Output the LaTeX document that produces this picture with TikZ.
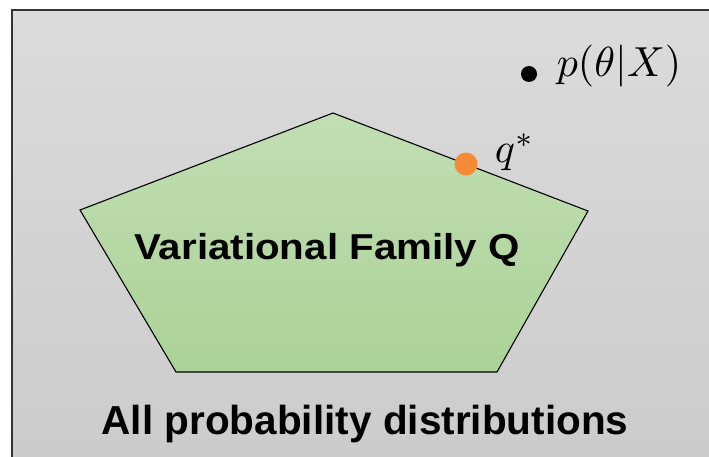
\documentclass[tikz,border=0pt]{standalone}
\usepackage{amsmath}
\usepackage{fontspec}
\setsansfont{Liberation Sans}
\usepackage{tikz}
\usetikzlibrary{positioning}

\definecolor{fonsclar}{RGB}{219,219,219}
\definecolor{fonsfosc}{RGB}{203,203,203}
\definecolor{verdclar}{RGB}{194,222,180}
\definecolor{verdfosc}{RGB}{170,210,150}
\definecolor{taronja}{RGB}{244,140,54}

\begin{document}
\begin{tikzpicture}[x=1pt, y=-1pt,
    etiqueta/.style={font=\sffamily\bfseries, inner sep=0pt, anchor=base},
    formula/.style={inner sep=0pt, scale=4.2, anchor=base west}]
    \useasboundingbox (0,0) rectangle (709,457);
    \clip (0,0) rectangle (709,457);

    % 1. FONS DE TOTES LES DISTRIBUCIONS
    \shade[top color=fonsclar, bottom color=fonsfosc] (12,10) rectangle (730,480);
    \draw[line width=1.8pt, black!80] (12,480) -- (12,10) -- (730,10);

    % 2. PENTAGON DE LA FAMILIA VARIACIONAL
    \shade[top color=verdclar, bottom color=verdfosc, draw=black, line width=1.1pt]
        (333,113) -- (588,211) -- (497,372) -- (176,372) -- (80,210) -- cycle;

    % 3. PUNTS
    \fill[black] (529,74) circle (8);
    \node[formula] (labelp) at (556,77) {$p(\theta|X)$};
    \fill[taronja] (466,164) circle (11.5);
    \node[formula] (labelq) at (494,163) {$q^*$};

    % 4. TEXTOS
    \node[etiqueta, font=\sffamily\bfseries\fontsize{36}{40}\selectfont, xscale=1.12] (familia) at (327,259) {Variational Family Q};
    \node[etiqueta, font=\sffamily\bfseries\fontsize{40.5}{44}\selectfont] (totes) at (365,434) {All probability distributions};

\end{tikzpicture}
\end{document}
